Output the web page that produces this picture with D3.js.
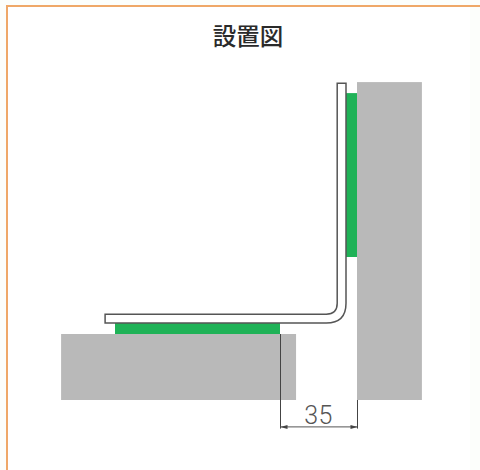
<!DOCTYPE html>
<html><head><meta charset="utf-8">
<script src="https://d3js.org/d3.v7.min.js"></script>
<style>html,body{margin:0;padding:0;background:#fff}svg{display:block}</style>
</head><body><svg id="c" width="480" height="470"></svg>
<script>
// Diagram values in millimetres, measured from the edge of the lower green strip.
const titleText = "設置図";
const dimensionLabel = "35";
const grayX = [[-99.5, 7.3], [35, 64.5]];
const grayY = [[-30, 0], [-30, 114.5]];
const greenX = [[-75, 0], [29.5, 35]];
const greenY = [[0, 5], [35, 109.5]];
const bracketOuter = [[-79.5, 9], [21, 9], [26, 14], [26, 114], [30, 114], [30, 14], [21, 5], [-79.5, 5]];
const dimensionX = [0, 35];
const dimensionTop = [0, -30];
const dimensionLow = -43;
const arrowLevel = -42;

const x = d3.scaleLinear().domain([0, 35]).range([280, 357]);
const y = d3.scaleLinear().domain([0, 35]).range([334, 257]);
const svg = d3.select("#c");

// page background and frame
svg.append("rect").attr("width", 480).attr("height", 470).attr("fill", "#fcfefb");
svg.append("rect").attr("x", 8).attr("y", 7).attr("width", 462).attr("height", 463).attr("fill", "#fff");
svg.append("path").attr("d", "M7,470V6H480").attr("fill", "none").attr("stroke", "#efa868").attr("stroke-width", 2);

svg.append("text").attr("x", 248).attr("y", 45).attr("text-anchor", "middle")
  .attr("font-family", "'Noto Sans CJK JP'").attr("font-size", 23.5).attr("font-weight", 500)
  .attr("fill", "#2a2a2a").text(titleText);

svg.selectAll("rect.gray").data(grayX).join("rect").attr("class", "gray")
  .attr("x", d => x(d[0])).attr("width", d => x(d[1]) - x(d[0]))
  .attr("y", (d, i) => y(grayY[i][1])).attr("height", (d, i) => y(grayY[i][0]) - y(grayY[i][1]))
  .attr("fill", "#b9b9b9");

svg.selectAll("rect.green").data(greenX).join("rect").attr("class", "green")
  .attr("x", d => x(d[0])).attr("width", d => x(d[1]) - x(d[0]))
  .attr("y", (d, i) => y(greenY[i][1])).attr("height", (d, i) => y(greenY[i][0]) - y(greenY[i][1]))
  .attr("fill", "#1fb257");

// L-shaped bracket, rounded at the bend
const p = bracketOuter;
const bracket = `M${x(p[0][0])},${y(p[0][1])}L${x(p[1][0])},${y(p[1][1])}`
  + `Q${x(p[2][0])},${y(p[1][1])} ${x(p[2][0])},${y(p[2][1])}`
  + `L${x(p[3][0])},${y(p[3][1])}L${x(p[4][0])},${y(p[4][1])}L${x(p[5][0])},${y(p[5][1])}`
  + `Q${x(p[5][0])},${y(p[7][1])} ${x(p[6][0])},${y(p[6][1])}`
  + `L${x(p[7][0])},${y(p[7][1])}Z`;
svg.append("path").attr("d", bracket).attr("fill", "#fff").attr("stroke", "#555").attr("stroke-width", 1.5);

// dimension lines
svg.selectAll("line.ext").data(dimensionX).join("line").attr("class", "ext")
  .attr("x1", d => x(d) + 0.5).attr("x2", d => x(d) + 0.5)
  .attr("y1", (d, i) => y(dimensionTop[i])).attr("y2", y(dimensionLow))
  .attr("stroke", "#444").attr("stroke-width", 1);
svg.append("line").attr("x1", x(dimensionX[0])).attr("x2", x(dimensionX[1]))
  .attr("y1", y(arrowLevel) + 0.5).attr("y2", y(arrowLevel) + 0.5).attr("stroke", "#555").attr("stroke-width", 1);
svg.selectAll("path.arrow").data(dimensionX).join("path").attr("class", "arrow")
  .attr("d", (d, i) => {
    const s = i ? -1 : 1, a = x(d) + 0.5, b = y(arrowLevel) + 0.5;
    return `M${a},${b}L${a + s * 7},${b - 2}L${a + s * 7},${b + 2}Z`;
  }).attr("fill", "#444");

svg.append("text").attr("x", (x(dimensionX[0]) + x(dimensionX[1])) / 2).attr("y", 424)
  .attr("text-anchor", "middle").attr("font-family", "Roboto, 'Liberation Sans'").attr("font-weight", 300)
  .attr("font-size", 25).attr("letter-spacing", 0.5).attr("fill", "#555").text(dimensionLabel);
</script></body></html>
